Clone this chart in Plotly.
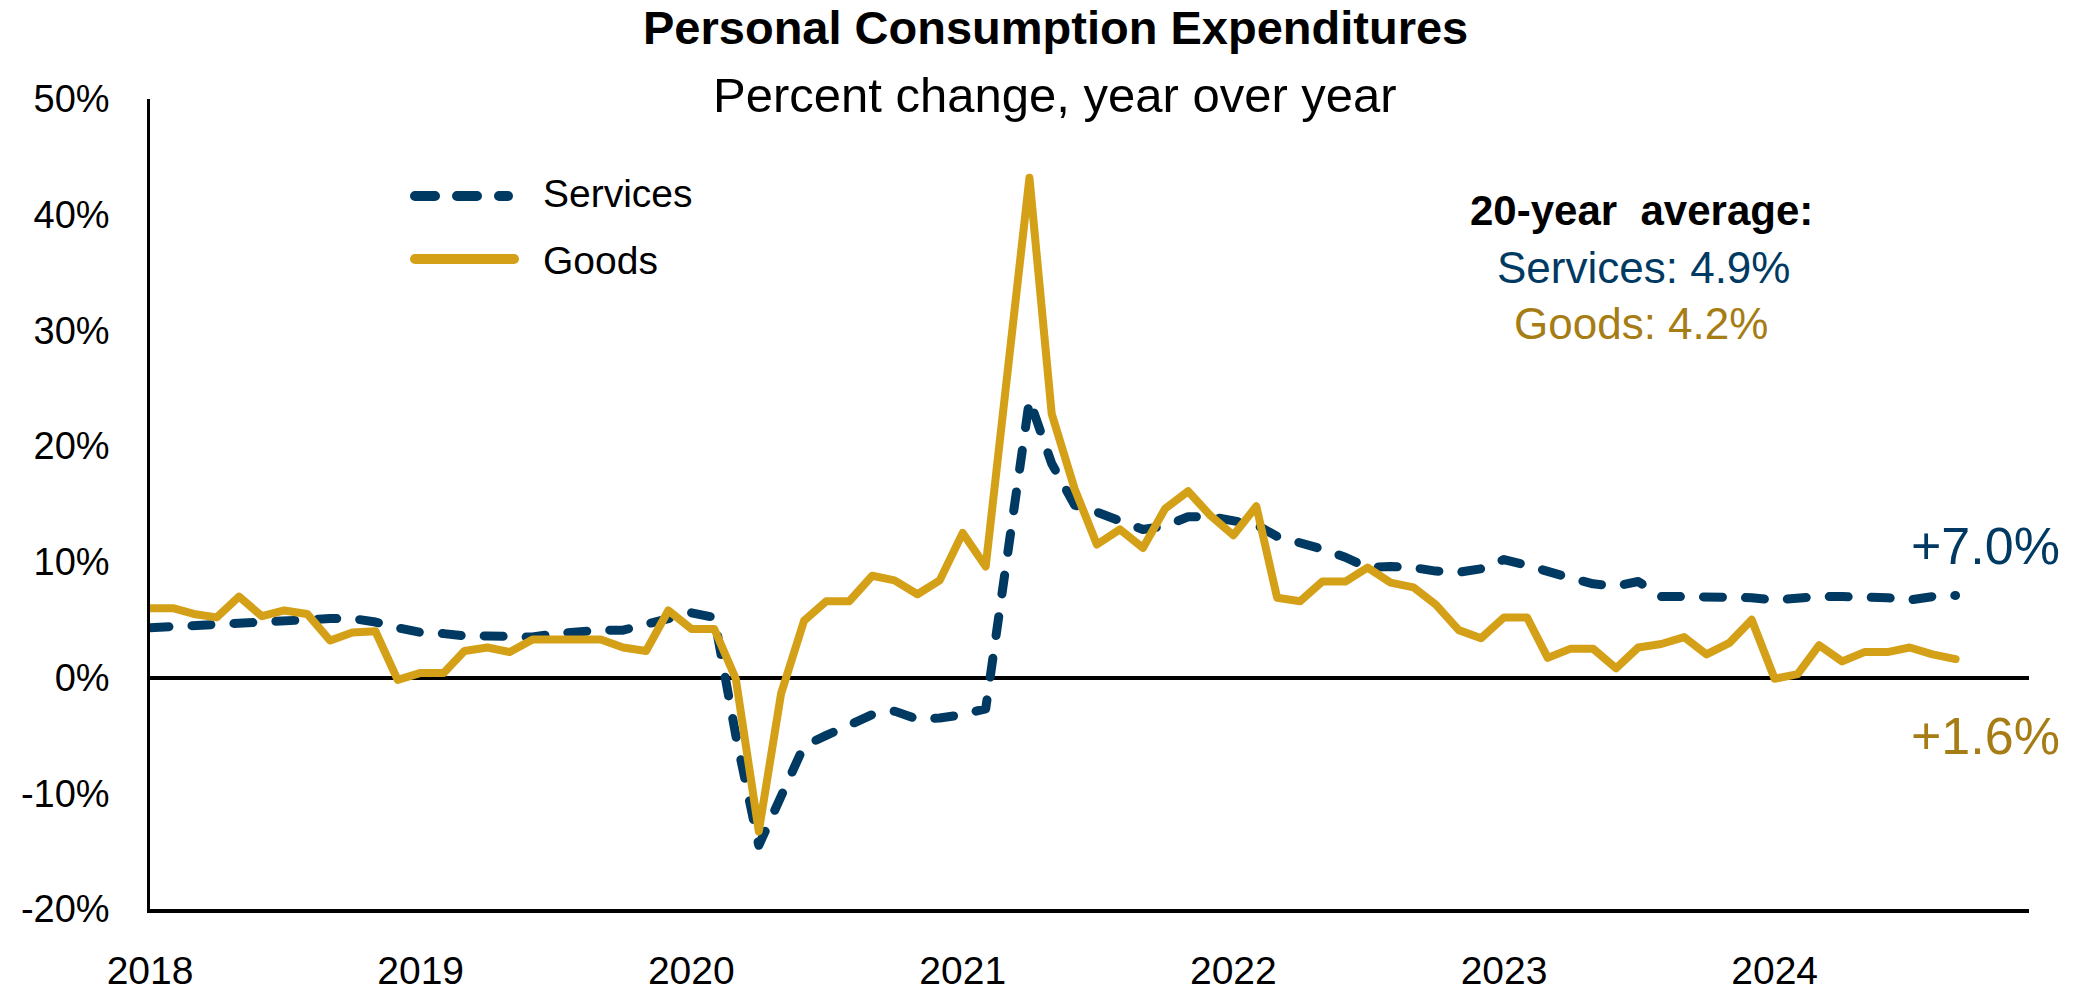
import pandas as pd
import plotly.graph_objects as go

# ---------------- data ----------------
months = pd.date_range("2018-01-01", periods=81, freq="MS")

services = [4.3, 4.4, 4.5, 4.7, 4.7, 4.9, 5.0, 5.0, 5.1, 5.1, 4.8, 4.3,
            3.9, 3.8, 3.6, 3.6, 3.5, 3.5, 3.8, 4.0, 4.1, 4.1, 4.6, 4.9,
            5.6, 5.2, -5.0, -14.5, -10.3, -5.9, -5.0, -4.2, -3.2, -2.9, -3.6, -3.5,
            -3.2, -2.7, 10.5, 24.0, 18.5, 14.9, 14.3, 13.6, 12.8, 13.1, 13.9, 13.9,
            13.6, 13.2, 12.2, 11.7, 11.1, 10.4, 9.5, 9.6, 9.5, 9.2, 9.1, 9.4,
            10.2, 9.7, 9.1, 8.6, 8.1, 7.9, 8.3, 7.0, 7.0, 7.0, 7.0, 6.9,
            6.7, 6.9, 7.0, 7.0, 7.0, 6.9, 6.7, 7.0, 7.1]

goods = [6.0, 6.0, 5.5, 5.2, 7.0, 5.3, 5.8, 5.5, 3.2, 3.9, 4.0, -0.2,
         0.4, 0.4, 2.3, 2.6, 2.2, 3.3, 3.3, 3.3, 3.3, 2.6, 2.3, 5.8,
         4.2, 4.2, -0.1, -13.3, -1.4, 4.9, 6.6, 6.6, 8.8, 8.4, 7.2, 8.4,
         12.5, 9.6, 25.0, 43.2, 22.8, 16.3, 11.5, 12.8, 11.2, 14.6, 16.1, 14.0,
         12.3, 14.8, 6.9, 6.6, 8.3, 8.3, 9.5, 8.2, 7.8, 6.3, 4.1, 3.4,
         5.2, 5.2, 1.7, 2.5, 2.5, 0.8, 2.6, 2.9, 3.5, 2.0, 3.0, 5.0,
         -0.1, 0.3, 2.8, 1.4, 2.2, 2.2, 2.6, 2.0, 1.6]

year_ticks = ["2018-01-01", "2019-01-01", "2020-01-01", "2021-01-01",
              "2022-01-01", "2023-01-01", "2024-01-01"]
year_labels = ["2018", "2019", "2020", "2021", "2022", "2023", "2024"]
y_ticks = [-20, -10, 0, 10, 20, 30, 40, 50]
y_labels = ["-20%", "-10%", "0%", "10%", "20%", "30%", "40%", "50%"]

title = "Personal Consumption Expenditures"
subtitle = "Percent change, year over year"
avg_head = "20-year  average:"
avg_services = "Services: 4.9%"
avg_goods = "Goods: 4.2%"
last_services = "+7.0%"
last_goods = "+1.6%"

# ---------------- styling ----------------
NAVY = "#003A63"
GOLD = "#D4A017"
GOLD_TXT = "#A67C14"
FONT = "Liberation Sans, Arial, sans-serif"

W, H = 2079, 994
L, R, T, B = 150, 50, 99, 85
PW, PH = W - L - R, H - T - B


def px(x):
    return (x - L) / PW


def py(y):
    return (H - B - y) / PH


fig = go.Figure()
fig.add_trace(go.Scatter(x=months, y=services, mode="lines", name="Services",
                         line=dict(color=NAVY, width=9, dash="19px,23px"),
                         showlegend=False, hoverinfo="skip"))
fig.add_trace(go.Scatter(x=months, y=goods, mode="lines", name="Goods",
                         line=dict(color=GOLD, width=8),
                         showlegend=False, hoverinfo="skip"))

annotations = [
    dict(text="<b>" + title + "</b>", x=px(1055), y=py(28), font=dict(size=47, color="black")),
    dict(text=subtitle, x=px(1055), y=py(95), font=dict(size=49, color="black")),
    dict(text="<b>" + avg_head + "</b>", x=px(1641), y=py(210), font=dict(size=42, color="black")),
    dict(text=avg_services, x=px(1643), y=py(267), font=dict(size=44, color=NAVY)),
    dict(text=avg_goods, x=px(1641), y=py(323), font=dict(size=44, color=GOLD_TXT)),
    dict(text=last_services, x=px(1985), y=py(546), font=dict(size=52, color=NAVY)),
    dict(text=last_goods, x=px(1985), y=py(736), font=dict(size=52, color=GOLD_TXT)),
    dict(text="Services", x=px(541), y=py(194), xanchor="left", font=dict(size=39, color="black")),
    dict(text="Goods", x=px(541), y=py(260), xanchor="left", font=dict(size=39, color="black")),
]
for a in annotations:
    a.setdefault("xanchor", "center")
    a.update(xref="paper", yref="paper", yanchor="middle", showarrow=False)
    a["font"]["family"] = FONT

shapes = [
    dict(type="line", xref="paper", yref="paper", x0=px(415), x1=px(508), y0=py(196), y1=py(196),
         line=dict(color=NAVY, width=10, dash="20px,22px")),
    dict(type="line", xref="paper", yref="paper", x0=px(415), x1=px(514), y0=py(259), y1=py(259),
         line=dict(color=GOLD, width=10)),
]

fig.update_layout(
    width=W, height=H,
    margin=dict(l=L, r=R, t=T, b=B),
    paper_bgcolor="white", plot_bgcolor="white",
    font=dict(family=FONT, size=39, color="black"),
    annotations=annotations,
    shapes=shapes,
    xaxis=dict(type="date", range=["2018-01-01", "2024-12-09"],
               tickvals=year_ticks, ticktext=year_labels,
               showgrid=False, zeroline=False, automargin=False,
               showline=True, linecolor="black", linewidth=4,
               ticks="", ticklabelstandoff=24,
               tickfont=dict(size=39, family=FONT, color="black")),
    yaxis=dict(range=[-20, 50], tickvals=y_ticks, ticktext=y_labels,
               showgrid=False, zeroline=True, zerolinecolor="black", zerolinewidth=3.5,
               showline=True, linecolor="black", linewidth=2.5, automargin=False,
               ticks="", ticklabelstandoff=30,
               tickfont=dict(size=38, family=FONT, color="black")),
)

post = """
document.body.style.margin = '0';
document.body.style.padding = '0';
document.body.style.overflow = 'hidden';
var gd = document.getElementById('{plot_id}');
function rnd(){
  gd.querySelectorAll('.scatterlayer path.js-line, .shapelayer path').forEach(function(p){
    p.style.strokeLinecap = 'round';
    p.style.strokeLinejoin = 'round';
  });
}
rnd();
gd.on('plotly_afterplot', rnd);
"""

fig.write_html("out.html", post_script=post, config={"displayModeBar": False})
